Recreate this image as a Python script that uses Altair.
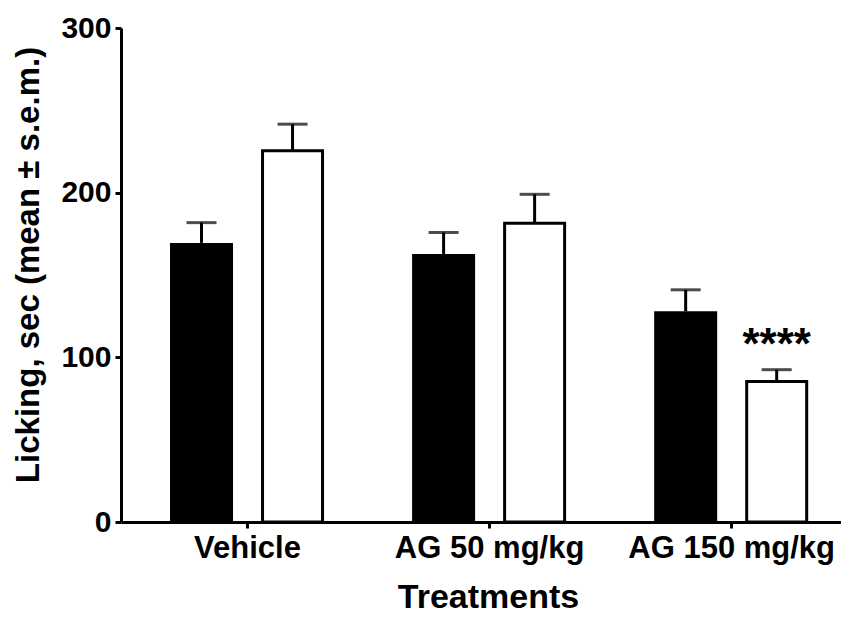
import json
import altair as alt
import pandas as pd

# ---- data ----
groups = ["Vehicle", "AG 50 mg/kg", "AG 150 mg/kg"]
black_mean = [169.5, 162.8, 128.0]
black_sem = [12.3, 13.0, 13.0]
white_mean = [225.5, 181.4, 85.3]
white_sem = [16.1, 17.6, 7.2]
white_sig = ["", "", "****"]
y_ticks = [0, 100, 200, 300]

rows = []
for i, g in enumerate(groups):
    rows.append(dict(group=g, gi=i, series="black", mean=black_mean[i], sem=black_sem[i], sig=""))
    rows.append(dict(group=g, gi=i, series="white", mean=white_mean[i], sem=white_sem[i], sig=white_sig[i]))
df = pd.DataFrame(rows)

# layout (style) constants
OFFSET = {"black": -0.188, "white": 0.188}
df["xpos"] = df["gi"] + 0.5 + df["series"].map(OFFSET)
df["top"] = df["mean"] + df["sem"]

FONT = "Liberation Sans"
xscale = alt.Scale(domain=[0, 2.933], nice=False, zero=False)
yscale = alt.Scale(domain=[0, 300], nice=False)
label_expr = json.dumps(groups) + "[floor(datum.value)]"

x_axis = alt.Axis(
    values=[0.5, 1.5, 2.5], labelExpr=label_expr, title="Treatments", grid=False,
    tickSize=6, tickWidth=3, tickColor="black", domainWidth=3, domainColor="black",
    labelFont=FONT, labelFontSize=31, labelFontWeight="bold", labelColor="black",
    labelPadding=5, labelFlush=False, labelOverlap=False, labelLimit=1000,
    titleFont=FONT, titleFontSize=34, titleFontWeight="bold", titleColor="black",
    titleX=367, titleY=85, titleBaseline="alphabetic", titleAlign="center", titleLimit=1000,
)
y_axis = alt.Axis(
    values=y_ticks, title="Licking, sec (mean ± s.e.m.)", grid=False,
    tickSize=6, tickWidth=3, tickColor="black", domainWidth=3, domainColor="black",
    labelFont=FONT, labelFontSize=30, labelFontWeight="bold", labelColor="black",
    labelPadding=4, labelFlush=False, labelOverlap=False, labelLimit=1000,
    titleFont=FONT, titleFontSize=33, titleFontWeight="bold", titleColor="black",
    titleX=-82.5, titleY=236.5, titleAngle=270, titleBaseline="alphabetic",
    titleAlign="center", titleLimit=1000,
)

base = alt.Chart(df).encode(x=alt.X("xpos:Q", scale=xscale, axis=x_axis))

err = base.mark_rule(strokeWidth=3, color="black").encode(
    y=alt.Y("mean:Q", scale=yscale, axis=y_axis), y2="top:Q")
bars_black = base.transform_filter(alt.datum.series == "black").mark_bar(
    size=63, color="black").encode(y=alt.Y("mean:Q", scale=yscale, axis=y_axis))
bars_white = base.transform_filter(alt.datum.series == "white").mark_bar(
    size=60, fill="white", stroke="black", strokeWidth=3).encode(
    y=alt.Y("mean:Q", scale=yscale, axis=y_axis))
caps = base.mark_tick(orient="horizontal", size=30, thickness=3, color="black").encode(
    y=alt.Y("top:Q", scale=yscale, axis=y_axis))
stars = base.mark_text(font=FONT, fontSize=44, fontWeight="bold", dy=-11,
                       baseline="alphabetic", color="black").encode(
    y=alt.Y("top:Q", scale=yscale, axis=y_axis), text="sig:N")

chart = alt.layer(err, bars_black, bars_white, caps, stars).properties(
    width=720, height=494,
    padding={"left": 113, "top": 20, "right": 0, "bottom": 94},
    autosize=alt.AutoSizeParams(type="none"),
    background="white",
).configure_view(stroke=None)

chart.save("out.html", embed_options={"renderer": "svg", "actions": False})
